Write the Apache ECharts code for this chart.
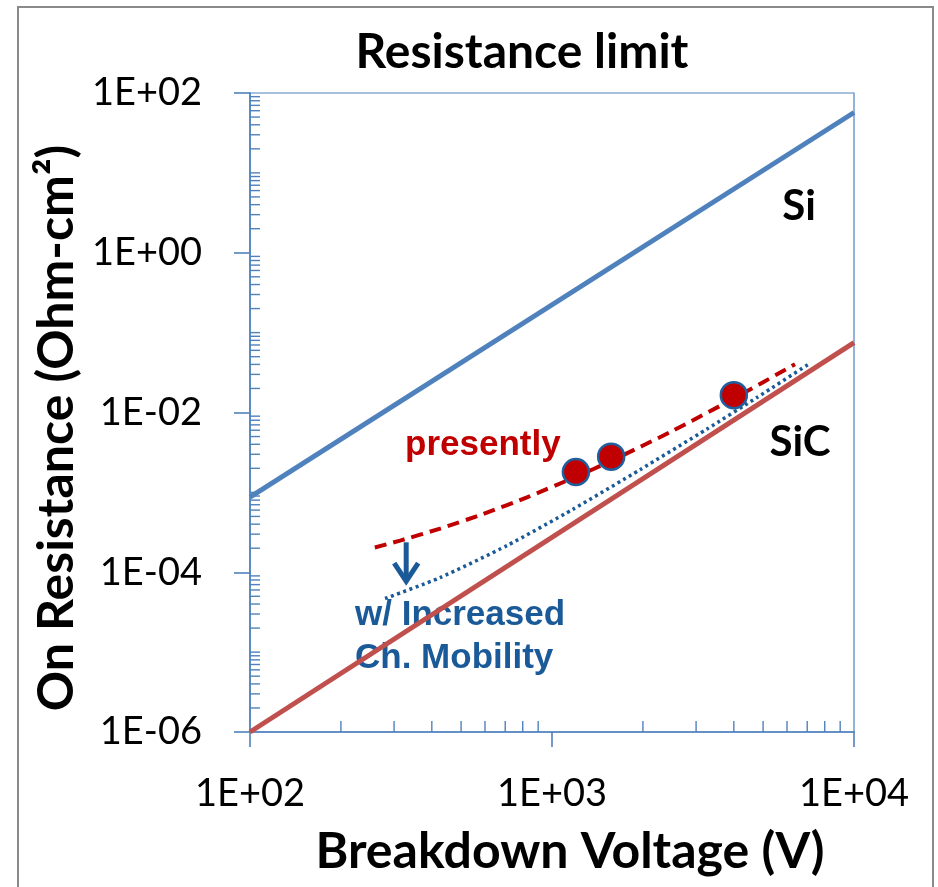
<!DOCTYPE html>
<html><head><meta charset="utf-8">
<script src="https://cdn.jsdelivr.net/npm/echarts@6/dist/echarts.min.js"></script>
<style>html,body{margin:0;padding:0;background:#fff}#c{width:938px;height:887px}</style>
</head><body><div id="c"></div>
<script>
// ---- data ----
const xTickValues = [100, 1000, 10000];
const yTickValues = [1e-6, 1e-4, 1e-2, 1, 100];
const siLimit = [[100, 8.7e-4], [10000, 57]];
const sicLimit = [[100, 1e-6], [10000, 0.075]];
const presentlyCurve = [[259, 2.04e-4], [314, 2.49e-4], [426, 3.52e-4], [591, 5.35e-4], [826, 8.66e-4],
  [1201, 1.57e-3], [1568, 2.47e-3], [2516, 5.92e-3], [4004, 0.0150], [6378, 0.0402]];
const improvedCurve = [[280, 4.69e-5], [426, 8.56e-5], [710, 2.16e-4], [1174, 6.15e-4], [1956, 1.92e-3],
  [3261, 6.22e-3], [4773, 0.0154], [7150, 0.0414]];
const devices = [[1200, 1.8e-3], [1570, 2.8e-3], [4000, 1.65e-2]];
const arrow = [[329, 2.37e-4, 7.1e-5]];

// minor ticks at 2..9 x 10^n (and non-labelled decades)
const xMinor = [];
for (let d = 2; d < 4; d++) for (let k = 2; k <= 9; k++) xMinor.push(k * Math.pow(10, d));
const yMinor = [];
for (let d = -6; d < 2; d++) for (let k = 1; k <= 9; k++) {
  if (k === 1 && d % 2 === 0) continue;
  yMinor.push(k * Math.pow(10, d));
}

const AX = '#4F81BD';
const BLUE_TXT = '#1B5A98';
const fmt = v => { const e = Math.round(Math.log10(v)); return '1E' + (e < 0 ? '-' : '+') + String(Math.abs(e)).padStart(2, '0'); };

const chart = echarts.init(document.getElementById('c'), null, {renderer: 'canvas'});
chart.setOption({
  animation: false,
  backgroundColor: '#fff',
  grid: {left: 250, top: 93, right: 84, bottom: 155, show: true, borderColor: AX, borderWidth: 1.2, containLabel: false},
  xAxis: {
    type: 'log', logBase: 10, min: 100, max: 10000, interval: 1,
    axisLine: {lineStyle: {color: AX, width: 1.6}},
    axisTick: {show: true, inside: false, length: 15, lineStyle: {color: AX, width: 1.6}},
    minorTick: {show: false}, splitLine: {show: false},
    axisLabel: {margin: 43, fontFamily: 'Lato', fontSize: 38, color: '#000', formatter: fmt}
  },
  yAxis: {
    type: 'log', logBase: 10, min: 1e-6, max: 100, interval: 2,
    axisLine: {lineStyle: {color: AX, width: 1.6}},
    axisTick: {show: true, inside: false, length: 16, lineStyle: {color: AX, width: 1.6}},
    minorTick: {show: false}, splitLine: {show: false},
    axisLabel: {margin: 48, fontFamily: 'Lato', fontSize: 38, color: '#000', formatter: fmt}
  },
  graphic: [
    {type: 'rect', shape: {x: 18, y: 7, width: 915, height: 900}, style: {fill: 'none', stroke: '#8a8a8a', lineWidth: 2}, silent: true},
    {type: 'text', x: 522, y: 53, style: {text: 'Resistance limit', textAlign: 'center', textVerticalAlign: 'middle', font: 'bold 48px Lato', fill: '#000'}},
    {type: 'text', x: 570, y: 852, style: {text: 'Breakdown Voltage (V)', textAlign: 'center', textVerticalAlign: 'middle', font: 'bold 50px Lato', fill: '#000'}},
    {type: 'text', x: 57, y: 428, rotation: Math.PI / 2,
      style: {text: 'On Resistance (Ohm-cm²)', textAlign: 'center', textVerticalAlign: 'middle', font: 'bold 50px Lato', fill: '#000'}},
    {type: 'text', x: 799, y: 206, style: {text: 'Si', textAlign: 'center', textVerticalAlign: 'middle', font: 'bold 42px Lato', fill: '#000'}},
    {type: 'text', x: 800, y: 442, style: {text: 'SiC', textAlign: 'center', textVerticalAlign: 'middle', font: 'bold 42px Lato', fill: '#000'}},
    {type: 'text', x: 405, y: 445, style: {text: 'presently', textAlign: 'left', textVerticalAlign: 'middle', font: 'bold 35px "Liberation Sans"', fill: '#C00000'}},
    {type: 'text', x: 355, y: 615, style: {text: 'w/ Increased', textAlign: 'left', textVerticalAlign: 'middle', font: 'bold 35px "Liberation Sans"', fill: BLUE_TXT}},
    {type: 'text', x: 355, y: 658, style: {text: 'Ch. Mobility', textAlign: 'left', textVerticalAlign: 'middle', font: 'bold 35px "Liberation Sans"', fill: BLUE_TXT}}
  ],
  series: [
    {type: 'custom', coordinateSystem: 'cartesian2d', clip: false, silent: true, z: 3,
      data: xMinor.map(v => [v, 1e-6]),
      renderItem: (p, api) => { const pt = api.coord([api.value(0), api.value(1)]);
        return {type: 'line', shape: {x1: pt[0], y1: pt[1], x2: pt[0], y2: pt[1] - 11}, style: {stroke: AX, lineWidth: 1.4}}; }},
    {type: 'custom', coordinateSystem: 'cartesian2d', clip: false, silent: true, z: 3,
      data: yMinor.map(v => [100, v]),
      renderItem: (p, api) => { const pt = api.coord([api.value(0), api.value(1)]);
        return {type: 'line', shape: {x1: pt[0], y1: pt[1], x2: pt[0] + 10, y2: pt[1]}, style: {stroke: AX, lineWidth: 1.4}}; }},
    {name: 'Si', type: 'line', data: siLimit, showSymbol: false, symbol: 'none', lineStyle: {color: '#4F81BD', width: 5}, z: 4},
    {name: 'SiC', type: 'line', data: sicLimit, showSymbol: false, symbol: 'none', lineStyle: {color: '#C0504D', width: 5}, z: 4},
    {name: 'improved', type: 'line', data: improvedCurve, smooth: 0.2, symbol: 'none', lineStyle: {color: BLUE_TXT, width: 3.5, type: [3, 3.5]}, z: 5},
    {name: 'presently', type: 'line', data: presentlyCurve, smooth: 0.2, symbol: 'none', lineStyle: {color: '#C00000', width: 4, type: [12, 7]}, z: 5},
    {name: 'devices', type: 'scatter', data: devices, symbol: 'circle', symbolSize: 26,
      itemStyle: {color: '#C00000', borderColor: '#1F5F9F', borderWidth: 2.5, opacity: 1}, z: 6},
    {type: 'custom', coordinateSystem: 'cartesian2d', clip: false, silent: true, z: 6,
      data: arrow,
      renderItem: (p, api) => {
        const a = api.coord([api.value(0), api.value(1)]);
        const b = api.coord([api.value(0), api.value(2)]);
        const st = {stroke: BLUE_TXT, lineWidth: 5, fill: 'none', lineCap: 'butt', lineJoin: 'miter'};
        return {type: 'group', children: [
          {type: 'line', shape: {x1: a[0], y1: a[1], x2: b[0], y2: b[1] - 3}, style: st},
          {type: 'polyline', shape: {points: [[b[0] - 12, b[1] - 21], [b[0], b[1] - 3], [b[0] + 12, b[1] - 21]]}, style: st}
        ]};
      }}
  ]
});
</script></body></html>
